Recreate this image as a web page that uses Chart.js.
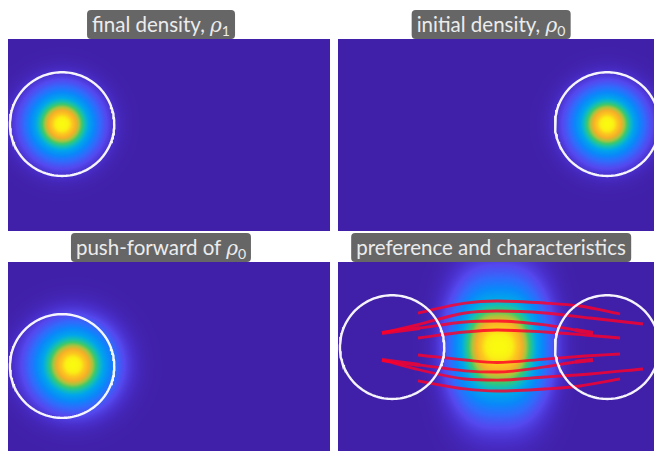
<!DOCTYPE html>
<html>
<head>
<meta charset="utf-8">
<script src="https://cdn.jsdelivr.net/npm/chart.js@4.4.0/dist/chart.umd.min.js"></script>
<style>
  html, body { margin: 0; padding: 0; background: #ffffff; }
  body { width: 654px; height: 451px; overflow: hidden; position: relative; font-family: Lato, "Open Sans", sans-serif; }
  .panel { position: absolute; width: 322px; height: 192px; }
  .panel canvas { display: block; }
  .title {
    position: absolute; transform: translateX(-50%);
    background: #666666; color: #ececec; border-radius: 4px;
    height: 29px; line-height: 29px; padding: 0 5px;
    font-size: 20.5px; white-space: nowrap; z-index: 2;
  }
  .rho { font-family: "DejaVu Serif", "Liberation Serif", serif; font-style: italic; font-size: 20px; }
  .sub { font-size: 14px; position: relative; top: 4px; }
</style>
</head>
<body>
<div class="title" style="left:161px; top:10px;">final density, <span class="rho">ρ</span><span class="sub">1</span></div>
<div class="title" style="left:491px; top:10px;">initial density, <span class="rho">ρ</span><span class="sub">0</span></div>
<div class="title" style="left:161px; top:233px;">push-forward of <span class="rho">ρ</span><span class="sub">0</span></div>
<div class="title" style="left:491px; top:233px;">preference and characteristics</div>

<div class="panel" style="left:8px; top:39px;"><canvas id="cFinal" width="322" height="192"></canvas></div>
<div class="panel" style="left:338px; top:39px;"><canvas id="cInitial" width="322" height="192"></canvas></div>
<div class="panel" style="left:8px; top:262px;"><canvas id="cPush" width="322" height="192"></canvas></div>
<div class="panel" style="left:338px; top:262px;"><canvas id="cPref" width="322" height="192"></canvas></div>

<script>
// Domain of every panel
const xRange = [-2.5, 2.5];
const yRange = [-1.5, 1.5];

// Gaussian densities: [centre x, centre y, sigma]
const finalDensity   = [-1.66, 0.17, 0.34];
const initialDensity = [ 1.68, 0.17, 0.34];
const pushForward    = [-1.49, -0.11, 0.39];

// Preference field: [centre x, centre y, width x, width y, exponent x]
const preferenceShape = [0.0, 0.18, 0.66, 0.875, 2.6];

// Support circles: [centre x, centre y, radius]
const circleFinal   = [-1.66, 0.17, 0.81];
const circleInitial = [ 1.68, 0.17, 0.81];
const circlePush    = [-1.66, -0.125, 0.81];

// Characteristic curves, each a list of [x, y]
const charA  = [[-1.258, 0.703], [-0.528, 0.859], [-0.031, 0.891], [0.714, 0.859], [1.258, 0.8125], [1.879, 0.6875]];
const charB  = [[-1.817, 0.391], [-1.227, 0.531], [-0.528, 0.703], [-0.031, 0.734], [0.714, 0.703], [1.413, 0.625], [2.236, 0.531]];
const charC  = [[-1.817, 0.391], [-1.227, 0.469], [-0.528, 0.5625], [-0.031, 0.578], [0.714, 0.516], [1.180, 0.4375], [1.460, 0.391]];
const charD  = [[-1.258, 0.3125], [-0.528, 0.406], [-0.031, 0.4375], [0.714, 0.406], [1.335, 0.359], [1.879, 0.3125]];
const charD2 = [[-1.258, 0.047], [-0.528, -0.031], [-0.031, -0.07], [0.714, -0.016], [1.335, 0.031], [1.879, 0.0625]];
const charC2 = [[-1.817, -0.03], [-1.227, -0.11], [-0.528, -0.2], [-0.031, -0.219], [0.714, -0.14], [1.180, -0.0625], [1.460, -0.03]];
const charB2 = [[-1.817, -0.03], [-1.227, -0.1875], [-0.528, -0.328], [-0.031, -0.345], [0.714, -0.297], [1.413, -0.25], [2.236, -0.172]];
const charA2 = [[-1.258, -0.359], [-0.528, -0.484], [-0.031, -0.516], [0.714, -0.484], [1.258, -0.4375], [1.879, -0.328]];
const characteristics = [charA, charB, charC, charD, charD2, charC2, charB2, charA2];
const thickEnded = [charC, charC2];

// Colour map stops: [level, r, g, b]
const cmapStops = [
  [0.00, 64, 32, 168],
  [0.05, 72, 45, 200],
  [0.12, 84, 72, 238],
  [0.22, 50, 105, 252],
  [0.34, 10, 135, 250],
  [0.48, 0, 165, 235],
  [0.58, 20, 190, 180],
  [0.66, 60, 200, 110],
  [0.74, 170, 195, 60],
  [0.82, 245, 175, 40],
  [0.90, 252, 200, 30],
  [0.96, 250, 240, 20],
  [1.00, 250, 250, 15]
];

function colormap(v) {
  v = Math.max(0, Math.min(1, v));
  for (let k = 1; k < cmapStops.length; k++) {
    const b = cmapStops[k];
    if (v <= b[0]) {
      const a = cmapStops[k - 1];
      const t = (v - a[0]) / (b[0] - a[0]);
      return [a[1] + t * (b[1] - a[1]), a[2] + t * (b[2] - a[2]), a[3] + t * (b[3] - a[3])];
    }
  }
  const l = cmapStops[cmapStops.length - 1];
  return [l[1], l[2], l[3]];
}

function gaussField(g) {
  return (x, y) => {
    const dx = x - g[0], dy = y - g[1];
    return Math.exp(-(dx * dx + dy * dy) / (2 * g[2] * g[2]));
  };
}

function preferenceField(p) {
  return (x, y) => {
    const dx = Math.abs(x - p[0]) / p[2], dy = (y - p[1]) / p[3];
    return Math.exp(-Math.pow(dx, p[4]) - dy * dy);
  };
}

// Paints a scalar field under the datasets, sampled through the chart scales
function fieldPlugin(field) {
  return {
    id: 'densityField',
    beforeDatasetsDraw(chart) {
      const area = chart.chartArea;
      const w = Math.round(area.right - area.left), h = Math.round(area.bottom - area.top);
      const off = document.createElement('canvas');
      off.width = w; off.height = h;
      const octx = off.getContext('2d');
      const img = octx.createImageData(w, h);
      const xs = chart.scales.x, ys = chart.scales.y;
      for (let j = 0; j < h; j++) {
        const yv = ys.getValueForPixel(area.top + j + 0.5);
        for (let i = 0; i < w; i++) {
          const xv = xs.getValueForPixel(area.left + i + 0.5);
          const c = colormap(field(xv, yv));
          const o = (j * w + i) * 4;
          img.data[o] = c[0]; img.data[o + 1] = c[1]; img.data[o + 2] = c[2]; img.data[o + 3] = 255;
        }
      }
      octx.putImageData(img, 0, 0);
      chart.ctx.drawImage(off, area.left, area.top);
    }
  };
}

function ringPoints(c) {
  const pts = [];
  const n = 160;
  for (let k = 0; k <= n; k++) {
    const t = 2 * Math.PI * k / n;
    pts.push({ x: c[0] + c[2] * Math.cos(t), y: c[1] + c[2] * Math.sin(t) });
  }
  return pts;
}

function ringDataset(c) {
  return {
    data: ringPoints(c), showLine: true, pointRadius: 0,
    borderColor: 'rgba(255,255,255,0.95)', borderWidth: 2.4, tension: 0
  };
}

function curveDataset(pts, thick) {
  const n = pts.length;
  return {
    data: pts.map(p => ({ x: p[0], y: p[1] })), showLine: true, pointRadius: 0,
    borderColor: 'rgba(255,0,40,0.82)', borderWidth: 2.8, tension: 0.4,
    cubicInterpolationMode: 'monotone',
    segment: thick ? {
      borderWidth: ctx => (ctx.p0DataIndex === 0 || ctx.p1DataIndex === n - 1) ? 4 : 2.8
    } : undefined
  };
}

function makeChart(id, field, datasets) {
  return new Chart(document.getElementById(id), {
    type: 'scatter',
    data: { datasets },
    options: {
      responsive: false, animation: false, events: [],
      layout: { padding: 0 },
      plugins: { legend: { display: false }, tooltip: { enabled: false } },
      scales: {
        x: { type: 'linear', min: xRange[0], max: xRange[1], display: false },
        y: { type: 'linear', min: yRange[0], max: yRange[1], display: false }
      }
    },
    plugins: [fieldPlugin(field)]
  });
}

makeChart('cFinal', gaussField(finalDensity), [ringDataset(circleFinal)]);
makeChart('cInitial', gaussField(initialDensity), [ringDataset(circleInitial)]);
makeChart('cPush', gaussField(pushForward), [ringDataset(circlePush)]);
makeChart('cPref', preferenceField(preferenceShape), [
  ringDataset(circleFinal),
  ringDataset(circleInitial),
  ...characteristics.map(c => curveDataset(c, thickEnded.includes(c)))
]);
</script>
</body>
</html>
